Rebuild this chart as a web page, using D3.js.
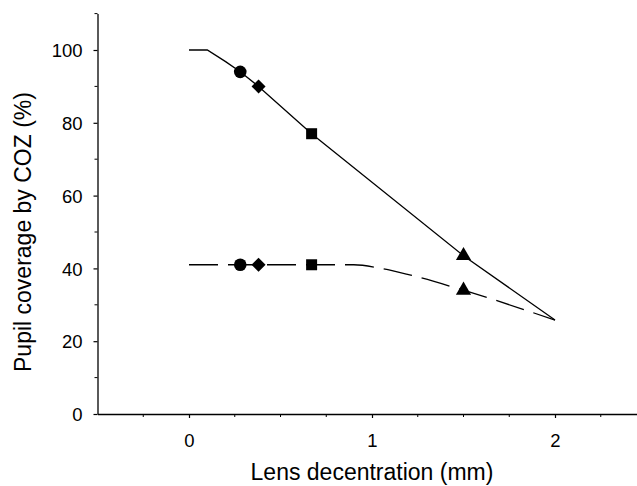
<!DOCTYPE html>
<html lang="en">
  <head>
    <meta charset="UTF-8" />
    <title>Pupil coverage</title>
    <style>
      body { margin: 0; background: #fff; }
      text { font-family: "Liberation Sans", Arial, sans-serif; }
    </style>
  </head>
  <body>
    <svg id="chart"></svg>
    <script src="https://cdnjs.cloudflare.com/ajax/libs/d3/7.8.5/d3.min.js"></script>
    <script>
      // line data: decentration (mm) and coverage (%)
      const solidX = [0, 0.1, 0.2, 0.28, 0.38, 0.67, 1.5, 2.0];
      const solidY = [100, 100, 96.8, 94, 90, 77, 43.5, 25.8];
      const dashX = [0, 0.28, 0.38, 0.67, 0.9, 1.05, 1.2, 1.5, 2.0];
      const dashY = [41, 41, 41, 41, 41, 40, 38.3, 34, 25.8];

      // marker points (same x positions for both lines)
      const markX = [0.28, 0.38, 0.67, 1.5];
      const markSolid = [94, 90, 77, 43.5];
      const markDash = [41, 41, 41, 34];
      const markShape = ["circle", "diamond", "square", "triangle"];

      const xTicks = [0, 1, 2];
      const yTicks = [0, 20, 40, 60, 80, 100];

      const width = 637, height = 486;
      const svg = d3.select("#chart").attr("width", width).attr("height", height);

      const x = d3.scaleLinear().domain([-0.5, 2.5]).range([97.5, 646.5]);
      const y = d3.scaleLinear().domain([0, 110]).range([414, 13.6]);

      // axes
      const xAxis = d3.axisBottom(x).tickValues(xTicks).tickFormat(d3.format("d")).tickSize(4).tickSizeOuter(0);
      const yAxis = d3.axisLeft(y).tickValues(yTicks).tickSize(4).tickSizeOuter(0);

      const gx = svg.append("g").attr("transform", `translate(0,${y(0)})`).call(xAxis);
      gx.selectAll(".tick text").attr("font-size", 18.5).attr("dy", 0).attr("y", 33);
      gx.selectAll(".tick line").attr("stroke-width", 1.2);
      gx.select(".domain").attr("stroke-width", 1.3);
      // minor x ticks
      gx.selectAll(".minor")
        .data(d3.range(-0.25, 2.5, 0.25).filter((d) => !xTicks.includes(d)))
        .join("line")
        .attr("x1", (d) => x(d)).attr("x2", (d) => x(d))
        .attr("y1", 0).attr("y2", 3)
        .attr("stroke", "#000").attr("stroke-width", 1);

      const gy = svg.append("g").attr("transform", `translate(${x(-0.5)},0)`).call(yAxis);
      gy.selectAll(".tick text").attr("font-size", 18.5).attr("x", -15).attr("dy", "0.36em");
      gy.selectAll(".tick line").attr("stroke-width", 1.2);
      gy.select(".domain").attr("stroke-width", 1.3);
      gy.selectAll(".minor")
        .data(d3.range(10, 111, 20))
        .join("line")
        .attr("x1", -3).attr("x2", 0)
        .attr("y1", (d) => y(d)).attr("y2", (d) => y(d))
        .attr("stroke", "#000").attr("stroke-width", 1);

      // titles
      svg.append("text")
        .attr("x", x(1)).attr("y", 480)
        .attr("text-anchor", "middle").attr("font-size", 23)
        .text("Lens decentration (mm)");
      svg.append("text")
        .attr("transform", `translate(31,${y(50)}) rotate(-90)`)
        .attr("text-anchor", "middle").attr("font-size", 23)
        .text("Pupil coverage by COZ (%)");

      // lines
      const line = d3.line().x((d) => x(d[0])).y((d) => y(d[1]));
      svg.append("path")
        .datum(d3.zip(solidX, solidY))
        .attr("d", line)
        .attr("fill", "none").attr("stroke", "#000").attr("stroke-width", 1.3);
      svg.append("path")
        .datum(d3.zip(dashX, dashY))
        .attr("d", line.curve(d3.curveMonotoneX))
        .attr("fill", "none").attr("stroke", "#000").attr("stroke-width", 1.3)
        .attr("stroke-dasharray", "29,10");

      // markers
      const sym = {
        circle: d3.symbol().type(d3.symbolCircle).size(125),
        diamond: d3.symbol().type(d3.symbolDiamond2).size(125),
        square: d3.symbol().type(d3.symbolSquare).size(121),
        triangle: d3.symbol().type(d3.symbolTriangle).size(100),
      };
      const pts = markX.map((v, i) => [v, markSolid[i], markShape[i]])
        .concat(markX.map((v, i) => [v, markDash[i], markShape[i]]));
      svg.append("g")
        .selectAll("path")
        .data(pts)
        .join("path")
        .attr("transform", (d) => `translate(${x(d[0])},${y(d[1])})`)
        .attr("d", (d) => sym[d[2]]())
        .attr("fill", "#000");
    </script>
  </body>
</html>
